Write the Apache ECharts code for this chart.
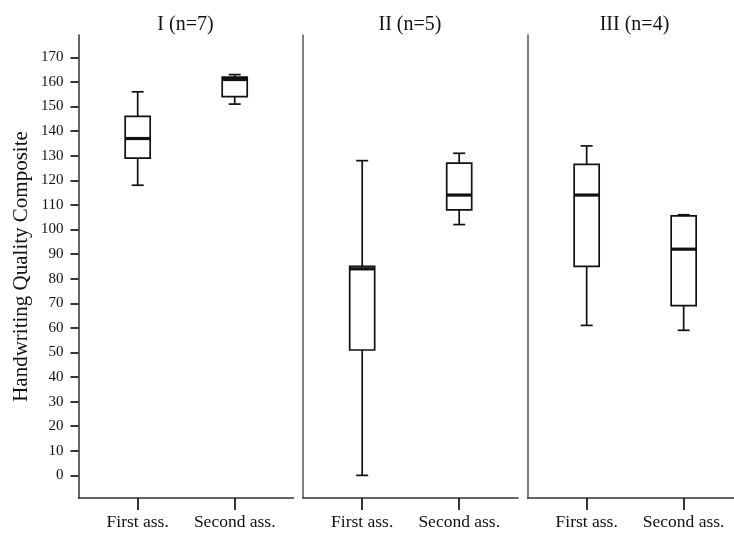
<!DOCTYPE html>
<html>
<head>
<meta charset="utf-8">
<script src="https://cdn.jsdelivr.net/npm/echarts@6/dist/echarts.min.js"></script>
<style>
  html, body { margin: 0; padding: 0; background: #fff; }
  #chart { width: 734px; height: 533px; }
</style>
</head>
<body>
<div id="chart"></div>
<script>
// ---- data ----
const categories = ['First ass.', 'Second ass.'];
const panelTitles = ['I (n=7)', 'II (n=5)', 'III (n=4)'];
// each box: [min, Q1, median, Q3, max]
const groupIFirst  = [118, 129, 137, 146, 156];
const groupISecond = [151, 154, 161, 162, 163];
const groupIIFirst  = [0, 51, 84, 85, 128];
const groupIISecond = [102, 108, 114, 127, 131];
const groupIIIFirst  = [61, 85, 114, 126.5, 134];
const groupIIISecond = [59, 69, 92, 105.5, 106];
const yTickValues = [0, 10, 20, 30, 40, 50, 60, 70, 80, 90, 100, 110, 120, 130, 140, 150, 160, 170];
const yAxisTitle = 'Handwriting Quality Composite';

const panelBoxes = [
  [groupIFirst, groupISecond],
  [groupIIFirst, groupIISecond],
  [groupIIIFirst, groupIIISecond]
];

// ---- layout ----
const gridLefts = [78.5, 303, 527.5];
const gridWidths = [215, 215, 206.5];
const xMins = [-0.61, -0.61, -0.61];
const xMaxs = [1.606, 1.606, 1.519];
const gridTop = 35, gridHeight = 463;
const serif = '"Liberation Serif", "DejaVu Serif", serif';
const ink = '#111';

const chart = echarts.init(document.getElementById('chart'), null, { renderer: 'canvas' });

function renderBox(params, api) {
  const x = api.value(0);
  const mn = api.coord([x, api.value(1)]);
  const q1 = api.coord([x, api.value(2)]);
  const md = api.coord([x, api.value(3)]);
  const q3 = api.coord([x, api.value(4)]);
  const mx = api.coord([x, api.value(5)]);
  const cx = mn[0];
  const bw = 25, cw = 12;
  const lineStyle = { stroke: ink, lineWidth: 1.7, fill: null };
  return {
    type: 'group',
    children: [
      { type: 'line', shape: { x1: cx, y1: q3[1], x2: cx, y2: mx[1] }, style: lineStyle },
      { type: 'line', shape: { x1: cx, y1: q1[1], x2: cx, y2: mn[1] }, style: lineStyle },
      { type: 'line', shape: { x1: cx - cw / 2, y1: mx[1], x2: cx + cw / 2, y2: mx[1] }, style: lineStyle },
      { type: 'line', shape: { x1: cx - cw / 2, y1: mn[1], x2: cx + cw / 2, y2: mn[1] }, style: lineStyle },
      { type: 'rect', shape: { x: cx - bw / 2, y: q3[1], width: bw, height: q1[1] - q3[1] },
        style: { stroke: ink, lineWidth: 1.7, fill: '#fff' } },
      { type: 'line', shape: { x1: cx - bw / 2, y1: md[1], x2: cx + bw / 2, y2: md[1] },
        style: { stroke: ink, lineWidth: 3.2 } }
    ]
  };
}

const grids = [], xAxes = [], yAxes = [], series = [], titles = [];
panelTitles.forEach((t, i) => {
  grids.push({ left: gridLefts[i], top: gridTop, width: gridWidths[i], height: gridHeight, containLabel: false });
  titles.push({
    text: t,
    left: gridLefts[i] + 102,
    top: 10,
    textAlign: 'center',
    textStyle: { fontFamily: serif, fontSize: 20, fontWeight: 'normal', color: ink }
  });
  xAxes.push({
    type: 'value', gridIndex: i, min: xMins[i], max: xMaxs[i],
    splitLine: { show: false },
    axisLine: { show: true, onZero: false, lineStyle: { color: '#333', width: 1.5 } },
    axisTick: { show: true, length: 12, customValues: [0, 1], lineStyle: { color: ink, width: 1.7 } },
    axisLabel: {
      show: true, customValues: [0, 1], margin: 15,
      formatter: v => categories[Math.round(v)] || '',
      fontFamily: serif, fontSize: 17.5, color: ink
    }
  });
  const showTicks = i === 0;
  yAxes.push({
    type: 'value', gridIndex: i, min: -9.2, max: 179.1,
    splitLine: { show: false },
    axisLine: { show: true, onZero: false, lineStyle: { color: showTicks ? '#333' : '#555', width: 1.5 } },
    axisTick: { show: showTicks, length: 8, customValues: yTickValues, lineStyle: { color: ink, width: 1.7 } },
    axisLabel: {
      show: showTicks, customValues: yTickValues, margin: 15,
      fontFamily: serif, fontSize: 15, color: ink
    },
    name: showTicks ? yAxisTitle : '',
    nameLocation: 'middle',
    nameGap: 47,
    nameTextStyle: { fontFamily: serif, fontSize: 21, color: ink }
  });
  series.push({
    type: 'custom',
    xAxisIndex: i, yAxisIndex: i,
    renderItem: renderBox,
    encode: { x: 0, y: [1, 2, 3, 4, 5] },
    clip: false,
    silent: true,
    data: panelBoxes[i].map((b, k) => [k].concat(b))
  });
});

chart.setOption({
  backgroundColor: '#fff',
  animation: false,
  title: titles,
  grid: grids,
  xAxis: xAxes,
  yAxis: yAxes,
  series: series
});
</script>
</body>
</html>
